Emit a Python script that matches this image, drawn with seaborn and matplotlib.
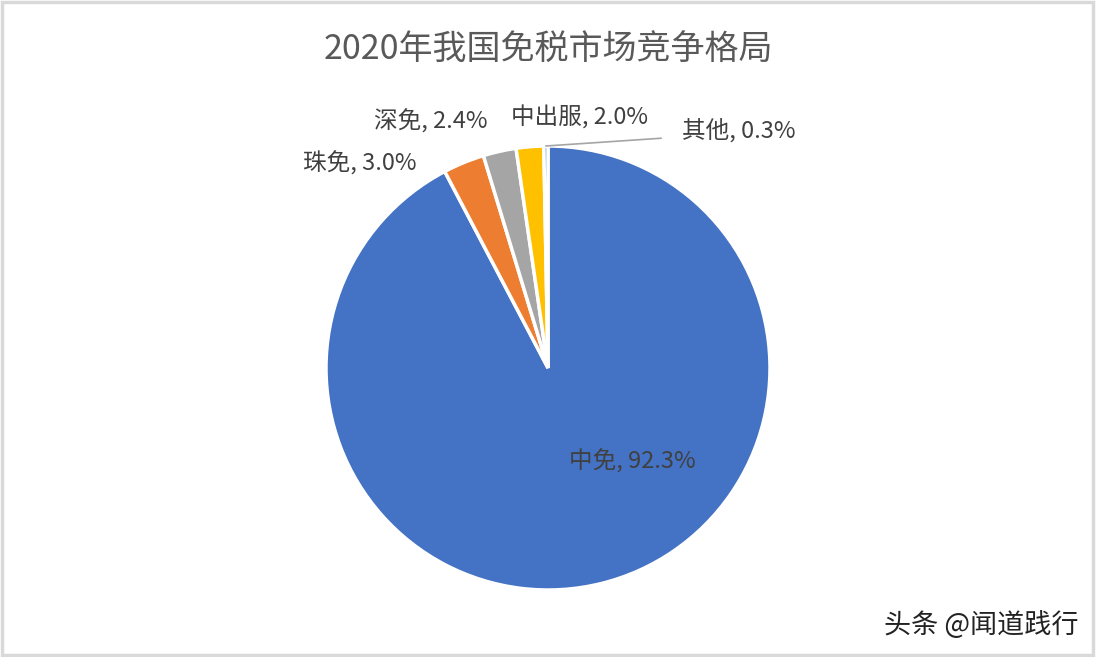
"""2020年我国免税市场竞争格局 - pie chart."""

import matplotlib
matplotlib.use("Agg")

import matplotlib.pyplot as plt
import seaborn as sns
import numpy as np

companies = ["中免", "珠免", "深免", "中出服", "其他"]
shares = [92.3, 3.0, 2.4, 2.0, 0.3]
colors = ["#4472C4", "#ED7D31", "#A5A5A5", "#FFC000", "#5B9BD5"]

title = "2020年我国免税市场竞争格局"
watermark = "头条 @闻道践行"

# label anchor positions (in pie radius units), like Excel's layout
label_pos = {
    "中免": (0.38, -0.42),
    "珠免": (-0.85, 0.92),
    "深免": (-0.53, 1.11),
    "中出服": (0.14, 1.13),
    "其他": (0.86, 1.07),
}

sns.set_theme(style="white")
plt.rcParams["font.family"] = ["Noto Sans CJK SC", "DejaVu Sans"]

fig = plt.figure(figsize=(10.96, 6.57), dpi=100)
# pie centred at (548, 368) px with radius 222 px
r_px = 222
ax = fig.add_axes([(548 - r_px) / 1096, (657 - 368 - r_px) / 657,
                   2 * r_px / 1096, 2 * r_px / 657])

wedges, _ = ax.pie(shares, colors=sns.color_palette(colors), startangle=90,
                   counterclock=False, radius=1,
                   wedgeprops=dict(edgecolor="white", linewidth=2.5))
ax.set_xlim(-1, 1)
ax.set_ylim(-1, 1)
ax.axis("off")

for name, val in zip(companies, shares):
    x, y = label_pos[name]
    ax.text(x, y, f"{name}, {val:.1f}%", ha="center", va="center",
            fontsize=17, color="#404040", clip_on=False)

# leader line for the tiny slice
ax.plot([-0.01, 0.51], [1.0, 1.035], color="#A5A5A5", lw=1.2, clip_on=False)

fig.text(0.5, 1 - 50 / 657, title, ha="center", va="center",
         fontsize=24.5, color="#595959")
fig.text(1 - 18 / 1096, 1 - 625 / 657, watermark, ha="right", va="center",
         fontsize=19.5, color="#222222")

# light grey frame around the whole picture
fig.patches.append(plt.Rectangle((0.002, 0.003), 0.995, 0.994,
                                 transform=fig.transFigure, fill=False,
                                 edgecolor="#D9D9D9", lw=2.5))

fig.savefig("out.png", dpi=100)
